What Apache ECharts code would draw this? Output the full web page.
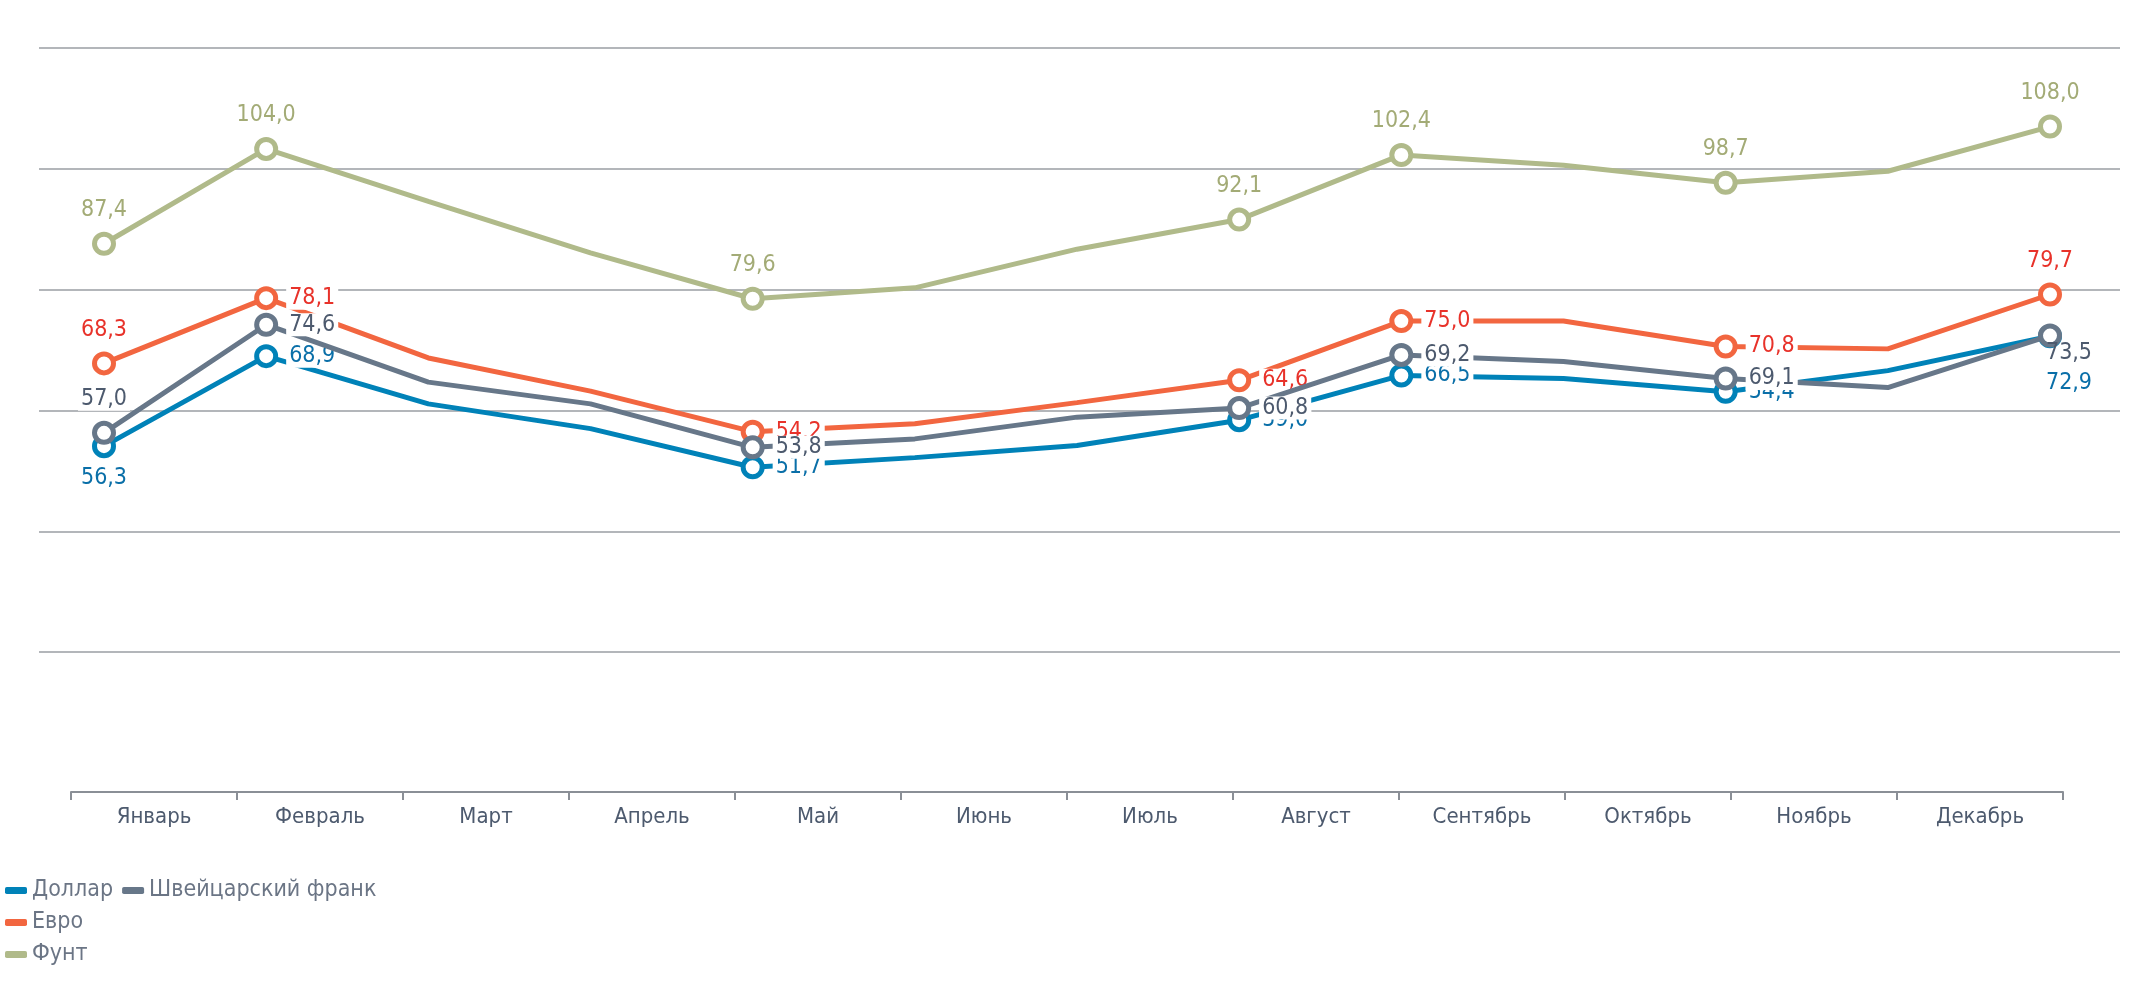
<!DOCTYPE html>
<html><head><meta charset="utf-8">
<script src="https://cdn.jsdelivr.net/npm/echarts@6/dist/echarts.min.js"></script>
<style>html,body{margin:0;padding:0;background:#fff}#c{width:2150px;height:1000px}</style>
</head><body><div id="c"></div>
<script>
const months = ['Январь','Февраль','Март','Апрель','Май','Июнь','Июль','Август','Сентябрь','Октябрь','Ноябрь','Декабрь'];
const steps = ['0','1','2','3','4','5','6','7','8','9','10','11','12'];
const seriesNames = ['Доллар','Евро','Фунт','Швейцарский франк'];
const dollar = [54.1,69.0,61.1,57.0,50.6,52.2,54.2,58.4,65.8,65.3,63.1,66.6,72.3];
const euro   = [67.8,78.6,68.7,63.2,56.5,57.8,61.3,65.0,74.8,74.8,70.6,70.2,79.2];
const pound  = [87.6,103.3,94.6,86.1,78.5,80.3,86.7,91.6,102.3,100.6,97.7,99.6,107.0];
const swiss  = [56.3,74.2,64.7,61.1,53.9,55.3,58.9,60.4,69.2,68.1,65.3,63.8,72.4];
const dollarLabels = ['56,3','68,9','','','51,7','','','59,0','66,5','','54,4','','72,9'];
const euroLabels   = ['68,3','78,1','','','54,2','','','64,6','75,0','','70,8','','79,7'];
const poundLabels  = ['87,4','104,0','','','79,6','','','92,1','102,4','','98,7','','108,0'];
const swissLabels  = ['57,0','74,6','','','53,8','','','60,8','69,2','','69,1','','73,5'];

const lineColors = ['#0082b8','#f26640','#b0ba8a','#677789'];
const textColors = ['#0a6fa8','#e8322a','#a3ab76','#4d5a6e'];
const FONT = "'Liberation Sans Narrow','DejaVu Sans Condensed','Roboto',sans-serif";

function build(vals, labels, posFn){
  return vals.map((v,i)=>{
    const item = {value:v};
    if(labels[i]===''){ item.symbol='none'; item.label={show:false}; }
    else { item.label = Object.assign({show:true, formatter:labels[i]}, posFn(i)); }
    return item;
  });
}
const posRight = {position:'right', distance:8};
const posTop = {position:'top', distance:10};
const posDollar = i => i===0 ? {position:'bottom',distance:8} : (i===12 ? {position:[31,59],align:'center',verticalAlign:'middle'} : posRight);
const posEuro = i => (i===0||i===12) ? posTop : posRight;
const posPound = i => posTop;
const posSwiss = i => i===0 ? posTop : (i===12 ? {position:[31,29],align:'center',verticalAlign:'middle',backgroundColor:'transparent'} : posRight);

const datas = [build(dollar,dollarLabels,posDollar), build(euro,euroLabels,posEuro), build(pound,poundLabels,posPound), build(swiss,swissLabels,posSwiss)];

const series = datas.map((d,k)=>({
  name: seriesNames[k], type:'line', xAxisIndex:1, yAxisIndex:1, data:d,
  symbol:'circle', symbolSize:19, showAllSymbol:true,
  lineStyle:{width:5, color:lineColors[k]},
  itemStyle:{color:'#fff', borderColor:lineColors[k], borderWidth:5},
  label:{show:true, color:textColors[k], fontFamily:FONT, fontSize:23, backgroundColor:'#fff', padding:[0,3]},
  emphasis:{disabled:true}, animation:false, z:2+k
}));

const option = {
  animation:false,
  legend:{orient:'vertical', left:0, top:874, itemWidth:22, itemHeight:7, itemGap:9, icon:'roundRect',
    data:seriesNames.map((n,k)=>({name:n, itemStyle:{color:lineColors[k], borderWidth:0}})),
    textStyle:{color:'#6b7585', fontFamily:FONT, fontSize:23}},
  grid:[
    {left:39, right:30, top:48, bottom:227},
    {left:104, right:100, top:48, bottom:227},
    {left:71, right:87, top:48, bottom:208}
  ],
  xAxis:[
    {gridIndex:0, type:'category', data:months, show:false},
    {gridIndex:1, type:'category', data:steps, boundaryGap:false, show:false},
    {gridIndex:2, type:'category', data:months, boundaryGap:true,
      axisLine:{lineStyle:{color:'#8a8f96', width:2}},
      axisTick:{show:true, inside:false, length:8, lineStyle:{color:'#8a8f96', width:2}},
      axisLabel:{color:'#4d5a6e', fontFamily:FONT, fontSize:22, margin:14}}
  ],
  yAxis:[
    {gridIndex:0, type:'value', min:0, max:120, interval:20, axisLabel:{show:false}, axisLine:{show:false}, axisTick:{show:false},
      splitLine:{show:true, showMinLine:false, lineStyle:{color:'#9a9ea3', width:1.5}}},
    {gridIndex:1, type:'value', min:0, max:120, interval:20, show:false, splitLine:{show:false}},
    {gridIndex:2, type:'value', show:false, splitLine:{show:false}}
  ],
  series: series
};
const chart = echarts.init(document.getElementById('c'), null, {renderer:'canvas'});
chart.setOption(option);
</script></body></html>
